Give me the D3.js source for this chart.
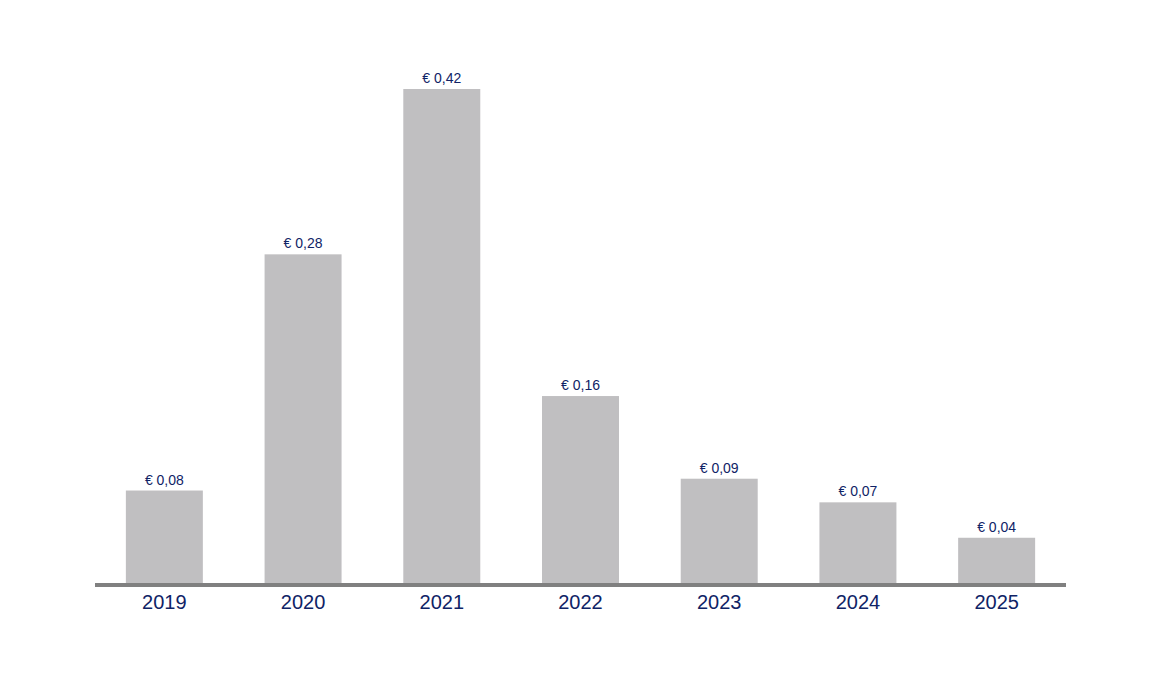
<!DOCTYPE html>
<html>
<head>
<meta charset="utf-8">
<script src="https://cdn.jsdelivr.net/npm/d3@7"></script>
<style>body{margin:0;background:#fff;}</style>
</head>
<body>
<div id="chart"></div>
<script>
var years = ["2019", "2020", "2021", "2022", "2023", "2024", "2025"];
var values = [0.08, 0.28, 0.42, 0.16, 0.09, 0.07, 0.04];

var width = 1160, height = 695;
var left = 95, right = 1066, baseline = 585;

var svg = d3.select("#chart").append("svg")
    .attr("width", width)
    .attr("height", height);

var x = d3.scaleBand()
    .domain(years)
    .range([left, right])
    .paddingInner(0.445)
    .paddingOuter(0.2225);

var y = d3.scaleLinear()
    .domain([0, 0.42])
    .range([baseline, 89]);

var data = years.map(function (d, i) { return {year: d, value: values[i]}; });

// bars
svg.append("g")
    .selectAll("rect")
    .data(data)
    .enter()
    .append("rect")
    .attr("x", function (d) { return x(d.year); })
    .attr("y", function (d) { return y(d.value); })
    .attr("width", x.bandwidth())
    .attr("height", function (d) { return baseline - y(d.value); })
    .style("fill", "#c0bfc1");

// value labels
svg.append("g")
    .selectAll("text")
    .data(data)
    .enter()
    .append("text")
    .attr("x", function (d) { return x(d.year) + x.bandwidth() / 2; })
    .attr("y", function (d) { return y(d.value) - 6; })
    .attr("text-anchor", "middle")
    .style("font-family", "Liberation Sans, Arial, sans-serif")
    .style("font-size", "14px")
    .style("fill", "#0f2366")
    .text(function (d) { return "€ " + d.value.toFixed(2).replace(".", ","); });

// x axis
var axis = svg.append("g")
    .attr("transform", "translate(0," + baseline + ")")
    .call(d3.axisBottom(x).tickSize(0).tickPadding(10));
axis.select(".domain")
    .attr("d", "M" + left + ",0H" + right)
    .style("stroke", "#808080")
    .style("stroke-width", 4);
axis.selectAll("text")
    .style("font-family", "Liberation Sans, Arial, sans-serif")
    .style("font-size", "20px")
    .style("fill", "#0f2366");
</script>
</body>
</html>
